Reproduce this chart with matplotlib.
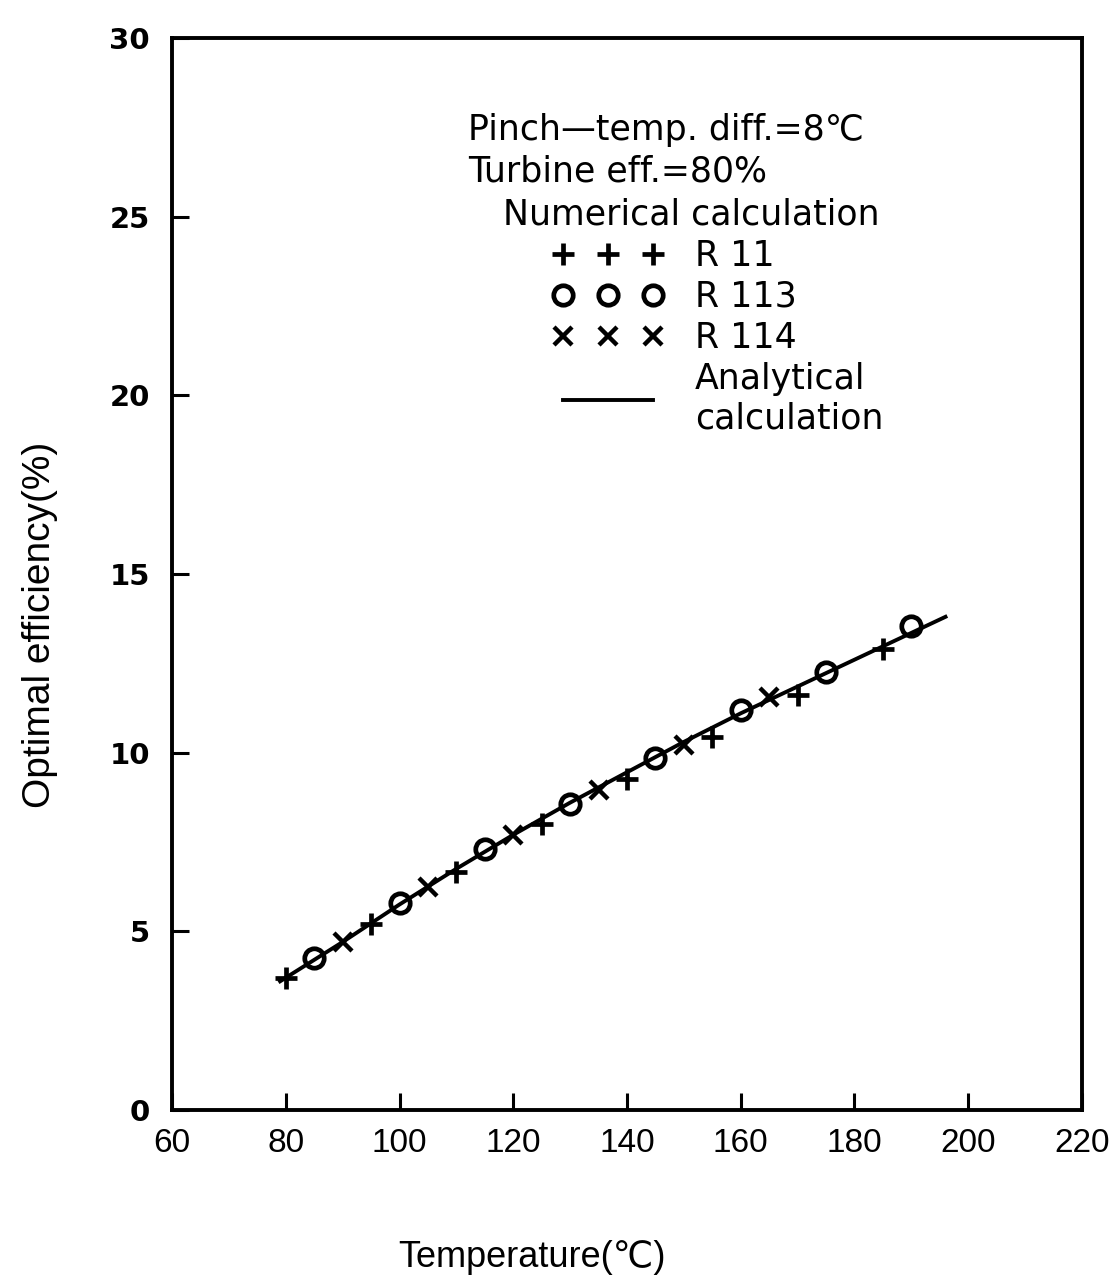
import matplotlib
matplotlib.use("Agg")
import matplotlib.pyplot as plt

plt.rcParams['font.family'] = ['Liberation Sans', 'DejaVu Sans']

# numerical results
r11_t = [80, 95, 110, 125, 140, 155, 170, 185]
r11_eff = [3.7, 5.2, 6.65, 8.0, 9.25, 10.45, 11.6, 12.9]

r113_t = [85, 100, 115, 130, 145, 160, 175, 190]
r113_eff = [4.25, 5.8, 7.3, 8.55, 9.85, 11.2, 12.25, 13.55]

r114_t = [90, 105, 120, 135, 150, 165]
r114_eff = [4.7, 6.25, 7.7, 8.95, 10.2, 11.55]

# analytical curve
ana_t = [79, 90, 100, 110, 120, 130, 140, 150, 160, 170, 180, 190, 196]
ana_eff = [3.6, 4.7, 5.75, 6.75, 7.7, 8.6, 9.45, 10.3, 11.1, 11.85, 12.6, 13.35, 13.8]

xticks = [60, 80, 100, 120, 140, 160, 180, 200, 220]
yticks = [0, 5, 10, 15, 20, 25, 30]

fig = plt.figure(figsize=(11.12, 12.86), dpi=100)
ax = fig.add_axes([0.1547, 0.1369, 0.8183, 0.8336])

ax.plot(ana_t, ana_eff, color='black', lw=2.8, label='Analytical\ncalculation')
ax.plot(r11_t, r11_eff, ls='none', marker='+', ms=16, mew=3.4, color='black', label='R 11')
ax.plot(r113_t, r113_eff, ls='none', marker='o', ms=14, mew=3.4, mfc='none', mec='black', label='R 113')
ax.plot(r114_t, r114_eff, ls='none', marker='x', ms=13, mew=3.2, color='black', label='R 114')

ax.set_xlim(60, 220)
ax.set_ylim(0, 30)
ax.set_xticks(xticks)
ax.set_yticks(yticks)
ax.tick_params(axis='x', direction='in', length=12, width=2.2, pad=13, labelsize=24)
ax.tick_params(axis='y', direction='in', length=12, width=2.2, pad=16, labelsize=21)
for lab in ax.get_yticklabels():
    lab.set_fontweight('bold')
    lab.set_family('DejaVu Sans')
for s in ax.spines.values():
    s.set_linewidth(2.8)

# legend block
fs = 25
wide = ['DejaVu Sans']
ax.text(0.325, 0.914, 'Pinch\u2014temp. diff.=8\u2103', transform=ax.transAxes,
        fontsize=fs, va='center', ha='left', family=wide)
ax.text(0.325, 0.875, 'Turbine eff.=80%', transform=ax.transAxes,
        fontsize=fs, va='center', ha='left', family=wide)
ax.text(0.364, 0.835, 'Numerical calculation', transform=ax.transAxes,
        fontsize=fs, va='center', ha='left', family=wide)

h, l = ax.get_legend_handles_labels()
order = [1, 2, 3, 0]
ax.legend([h[i] for i in order], [l[i] for i in order], loc='upper left',
          bbox_to_anchor=(0.418, 0.8125), frameon=False, numpoints=3,
          prop={'family': wide, 'size': fs}, handlelength=3.2, handletextpad=0.9,
          labelspacing=0.2, borderpad=0, borderaxespad=0)

fig.text(0.036, 0.514, 'Optimal efficiency(%)', rotation=90, fontsize=28,
         va='center', ha='center')
fig.text(0.478, 0.022, 'Temperature(\u2103)', fontsize=26, va='center', ha='center')

fig.savefig('out.png', dpi=100)
